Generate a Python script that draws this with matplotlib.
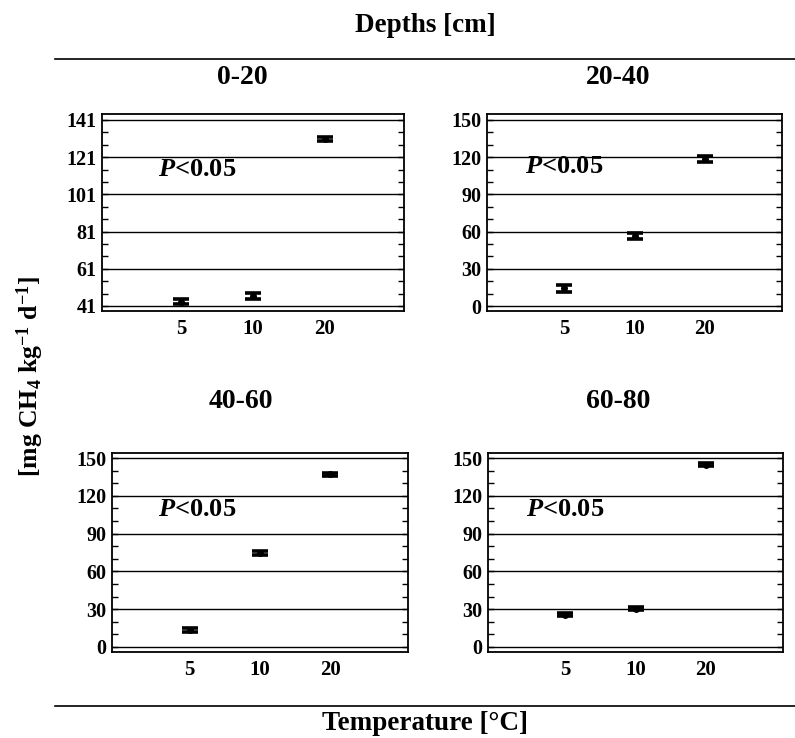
import matplotlib
matplotlib.use("Agg")
import matplotlib.pyplot as plt
from matplotlib.lines import Line2D
from matplotlib.ticker import AutoMinorLocator, FixedLocator

plt.rcParams['font.family'] = ['Liberation Serif', 'DejaVu Serif']
plt.rcParams['mathtext.fontset'] = 'custom'
plt.rcParams['mathtext.rm'] = 'Liberation Serif:bold'
plt.rcParams['mathtext.it'] = 'Liberation Serif:bold:italic'
plt.rcParams['mathtext.bf'] = 'Liberation Serif:bold'
plt.rcParams['mathtext.default'] = 'regular'

# ---- data ----
temps = ['5', '10', '20']
depths = ['0-20', '20-40', '40-60', '60-80']
means_0_20 = [43.2, 46.4, 130.8]
err_0_20 = [1.3, 1.5, 1.2]
means_20_40 = [14.3, 56.5, 118.8]
err_20_40 = [2.8, 2.5, 2.4]
means_40_60 = [13.5, 74.5, 137.0]
err_40_60 = [1.6, 1.3, 1.3]
means_60_80 = [25.4, 30.5, 144.5]
err_60_80 = [1.2, 1.2, 1.2]
yticks_0_20 = [41, 61, 81, 101, 121, 141]
yticks_other = [0, 30, 60, 90, 120, 150]
p_label = r'$\mathit{P}$<0.05'

W, H = 795, 738
fig = plt.figure(figsize=(W / 100, H / 100), dpi=100)


def fr(x0, y0, x1, y1):
    return [x0 / W, 1 - y1 / H, (x1 - x0) / W, (y1 - y0) / H]


panels = [
    dict(rect=fr(102, 114, 404, 311), means=means_0_20, err=err_0_20, yt=yticks_0_20,
         ylim=(38.3, 144.2), title=depths[0], tpos=(242, 77), ppos=(0.185, 0.716)),
    dict(rect=fr(487, 114, 782, 311), means=means_20_40, err=err_20_40, yt=yticks_other,
         ylim=(-4.0, 154.8), title=depths[1], tpos=(618, 77), ppos=(0.129, 0.731)),
    dict(rect=fr(112, 453, 408, 652), means=means_40_60, err=err_40_60, yt=yticks_other,
         ylim=(-4.0, 154.0), title=depths[2], tpos=(241, 401), ppos=(0.155, 0.714)),
    dict(rect=fr(488, 453, 783, 652), means=means_60_80, err=err_60_80, yt=yticks_other,
         ylim=(-4.0, 154.0), title=depths[3], tpos=(618, 401), ppos=(0.129, 0.714)),
]

xpos = [1, 2, 3]
for p in panels:
    ax = fig.add_axes(p['rect'])
    for yv in p['yt']:
        ax.axhline(yv, color='black', lw=1.0, zorder=1)
    ax.errorbar(xpos, p['means'], yerr=p['err'], fmt='o', color='black', ms=4,
                ecolor='black', elinewidth=2.2, capsize=5.5, capthick=2.6, zorder=3)
    ax.set_xlim(-0.1, 4.1)
    ax.set_ylim(*p['ylim'])
    ax.set_xticks(xpos)
    ax.set_xticklabels(temps)
    ax.yaxis.set_major_locator(FixedLocator(p['yt']))
    ax.yaxis.set_minor_locator(AutoMinorLocator(3))
    ax.tick_params(axis='x', length=0, pad=6, labelsize=15)
    ax.tick_params(axis='y', which='both', direction='in', left=True, right=True,
                   labelsize=14.5, pad=4)
    ax.tick_params(axis='y', which='major', length=4, width=1)
    ax.tick_params(axis='y', which='minor', length=4, width=1)
    for lab in ax.get_xticklabels() + ax.get_yticklabels():
        lab.set_fontweight('bold')
    for s in ax.spines.values():
        s.set_linewidth(1.3)
    ax.text(p['ppos'][0], p['ppos'][1], p_label, transform=ax.transAxes,
            fontsize=19, fontweight='bold', ha='left', va='center')
    fig.text(p['tpos'][0] / W, 1 - p['tpos'][1] / H, p['title'], fontsize=20,
             fontweight='bold', ha='center', va='center')

# header / footer
fig.text(425 / W, 1 - 25 / H, 'Depths [cm]', fontsize=19.5, fontweight='bold',
         ha='center', va='center')
fig.add_artist(Line2D([55 / W, 1.0], [1 - 59 / H] * 2, transform=fig.transFigure,
                      color='black', lw=1.2))
fig.add_artist(Line2D([55 / W, 1.0], [1 - 706 / H] * 2, transform=fig.transFigure,
                      color='black', lw=1.2))
fig.text(425 / W, 1 - 724 / H, 'Temperature [°C]', fontsize=19.5, fontweight='bold',
         ha='center', va='center')
fig.text(30 / W, 1 - 377 / H, r'[mg CH$_4$ kg$^{-1}$ d$^{-1}$]', fontsize=18.5,
         fontweight='bold', rotation=90, ha='center', va='center')

fig.savefig('out.png', dpi=100)
